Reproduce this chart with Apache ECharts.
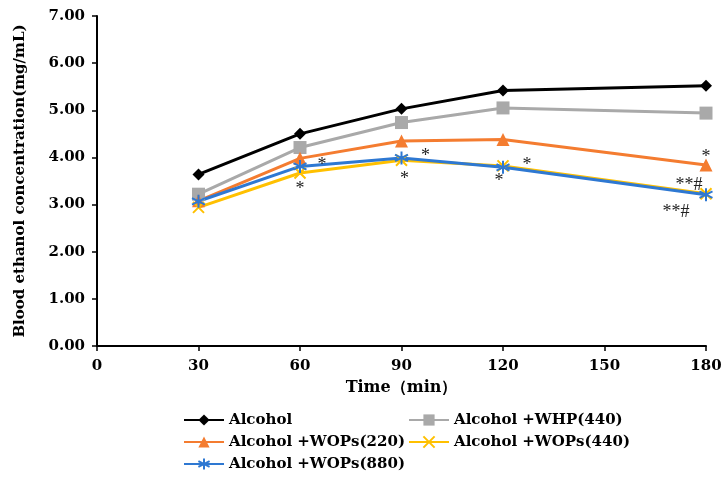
<!DOCTYPE html>
<html>
<head>
<meta charset="utf-8">
<script src="https://cdn.jsdelivr.net/npm/echarts@6/dist/echarts.min.js"></script>
<style>
  html, body { margin: 0; padding: 0; background: #ffffff; }
  #chart { width: 728px; height: 477px; }
</style>
</head>
<body>
<div id="chart"></div>
<script>
// sampling times (min)
const times = [30, 60, 90, 120, 180];
const yTicks = [0, 1, 2, 3, 4, 5, 6, 7];

// blood ethanol concentration (mg/mL)
const alcohol = [3.64, 4.50, 5.03, 5.42, 5.52];
const whp440 = [3.22, 4.21, 4.74, 5.05, 4.94];
const wops220 = [3.08, 3.98, 4.35, 4.38, 3.84];
const wops440 = [2.94, 3.67, 3.94, 3.82, 3.23];
const wops880 = [3.07, 3.81, 3.99, 3.79, 3.21];

// significance marks per point
const wops220Notes = ['', '', '', '', '*'];
const wops440Notes = ['', '*', '*', '*', '**#'];
const wops880Notes = ['', '*', '*', '*', '**#'];

const names = ['Alcohol', 'Alcohol +WHP(440)', 'Alcohol +WOPs(220)', 'Alcohol +WOPs(440)', 'Alcohol +WOPs(880)'];

const serif = 'DejaVu Serif';
const chart = echarts.init(document.getElementById('chart'));

function pts(vals, notes, offsets) {
  return vals.map((v, i) => {
    const item = { value: [times[i], v] };
    if (notes && notes[i]) {
      item.label = {
        show: true,
        formatter: notes[i],
        position: 'inside',
        offset: offsets[i],
        fontFamily: 'Liberation Serif',
        fontSize: 18,
        color: '#222'
      };
    }
    return item;
  });
}

function line(name, color, symbol, size, data, extraItem) {
  return {
    name: name,
    type: 'line',
    data: data,
    symbol: symbol,
    symbolSize: size,
    showSymbol: true,
    lineStyle: { color: color, width: 3 },
    itemStyle: Object.assign({ color: color }, extraItem || {}),
    emphasis: { disabled: true },
    z: 2
  };
}

const xMark = 'path://M0,0L10,10M10,0L0,10';
const starMark = 'path://M5,0L5,10M0.7,2.5L9.3,7.5M0.7,7.5L9.3,2.5';

const legendText = { fontFamily: serif, fontWeight: 'bold', fontSize: 15, color: '#000', lineHeight: 16 };

const option = {
  backgroundColor: '#ffffff',
  animation: false,
  grid: { left: 97, right: 22, top: 16, bottom: 131 },
  xAxis: {
    type: 'value',
    min: 0, max: 180, interval: 30,
    name: 'Time（min）',
    nameLocation: 'middle',
    nameGap: 34,
    nameTextStyle: { fontFamily: serif, fontWeight: 'bold', fontSize: 16, color: '#000' },
    axisLine: { lineStyle: { color: '#000', width: 2 } },
    axisTick: { show: true, length: 5, lineStyle: { color: '#000', width: 1.5 } },
    axisLabel: { fontFamily: serif, fontWeight: 'bold', fontSize: 15, color: '#000', margin: 13 },
    splitLine: { show: false }
  },
  yAxis: {
    type: 'value',
    min: yTicks[0], max: yTicks[yTicks.length - 1], interval: 1,
    name: 'Blood ethanol concentration(mg/mL)',
    nameLocation: 'middle',
    nameGap: 69,
    nameTextStyle: { fontFamily: serif, fontWeight: 'bold', fontSize: 15, color: '#000' },
    axisLine: { show: true, lineStyle: { color: '#000', width: 2 } },
    axisTick: { show: true, length: 5, lineStyle: { color: '#000', width: 1.5 } },
    axisLabel: {
      fontFamily: serif, fontWeight: 'bold', fontSize: 15, color: '#000', margin: 12,
      formatter: v => v.toFixed(2)
    },
    splitLine: { show: false }
  },
  legend: [
    {
      data: [names[0], names[2], names[4]],
      orient: 'vertical',
      left: 183, top: 412, height: 80, padding: 0,
      itemWidth: 40, itemHeight: 14, itemGap: 6,
      textStyle: legendText
    },
    {
      data: [names[1], names[3]],
      orient: 'vertical',
      left: 408, top: 412, height: 80, padding: 0,
      itemWidth: 40, itemHeight: 14, itemGap: 6,
      textStyle: legendText
    }
  ],
  series: [
    line(names[0], '#000000', 'diamond', 12, pts(alcohol)),
    line(names[1], '#A9A9A9', 'rect', 13, pts(whp440)),
    line(names[2], '#F47C30', 'triangle', 13,
      pts(wops220, wops220Notes, [0, 0, 0, 0, [0, -8]].map(o => o || [0, 0]))),
    line(names[3], '#FFC000', xMark, 11,
      pts(wops440, wops440Notes, [[0, 0], [0, 16], [3, 19], [-4, 15], [-17, -8]]),
      { borderColor: '#FFC000', borderWidth: 2 }),
    line(names[4], '#2E78D2', starMark, 13,
      pts(wops880, wops880Notes, [[0, 0], [22, -1], [24, -2], [24, -2], [-30, 18]]),
      { borderColor: '#2E78D2', borderWidth: 2 })
  ]
};

chart.setOption(option);
</script>
</body>
</html>
